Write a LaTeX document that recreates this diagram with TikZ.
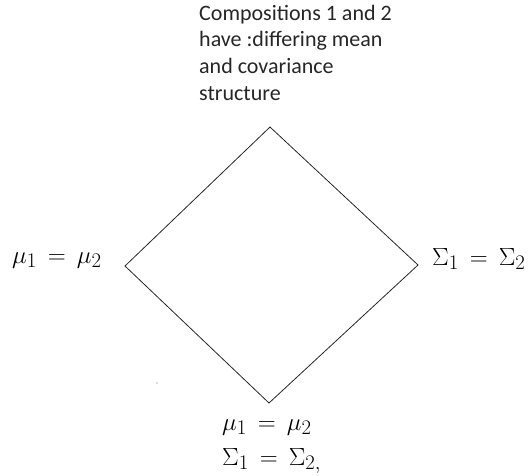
\documentclass[tikz,border=0pt]{standalone}
\usepackage{fontspec}
\newfontfamily\carlito{Carlito}
\begin{document}
\begin{tikzpicture}[x=1pt,y=-1pt,
  edge/.style={draw=black!85,line width=0.8pt,line join=miter},
  mathlbl/.style={inner sep=0pt,anchor=base west,font=\fontsize{24.88}{28}\selectfont},
  note/.style={inner sep=0pt,anchor=base west,text=black!85,font=\carlito\fontsize{22}{26}\selectfont}]
\useasboundingbox (0,0) rectangle (531,475);
% diamond vertices
\coordinate (T) at (270,127);
\coordinate (R) at (418,265);
\coordinate (B) at (269,403);
\coordinate (L) at (125,266);
\draw[edge] (T) -- (R) -- (B) -- (L) -- cycle;
% top note
\node[note] (n1) at (199,20) {Compositions 1 and 2};
\node[note] (n2) at (199,46.7) {have :differing mean};
\node[note] (n3) at (199,73.4) {and covariance};
\node[note] (n4) at (199,100.1) {structure};
% vertex labels
\node[mathlbl] (lft) at (12,263) {$\mu_1\,=\,\mu_2$};
\node[mathlbl] (rgt) at (432,265) {$\Sigma_1\,=\,\Sigma_2$};
\node[mathlbl] (bt1) at (222,430) {$\mu_1\,=\,\mu_2$};
\node[mathlbl] (bt2) at (222,465) {$\Sigma_1\,=\,\Sigma_{2,}$};
% stray mark
\fill[black!60] (157,383) circle (0.7);
\end{tikzpicture}
\end{document}
